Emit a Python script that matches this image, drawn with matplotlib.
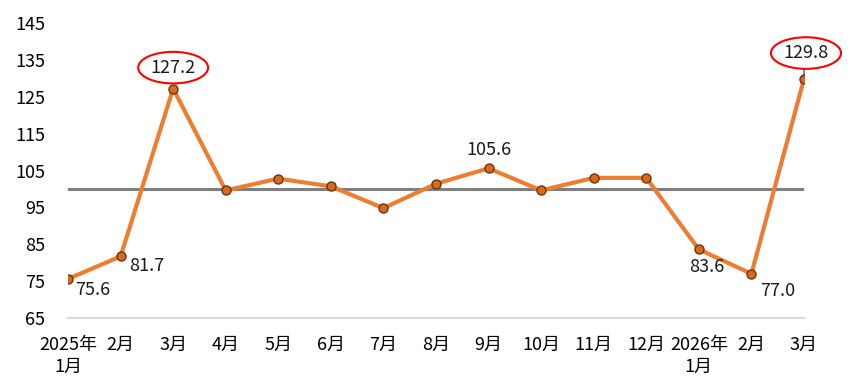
import matplotlib.pyplot as plt
import numpy as np

plt.rcParams['font.family'] = ['Noto Sans CJK SC', 'DejaVu Sans']

months = ['2025年\n1月', '2月', '3月', '4月', '5月', '6月', '7月', '8月', '9月',
          '10月', '11月', '12月', '2026年\n1月', '2月', '3月']
values = [75.6, 81.7, 127.2, 99.6, 102.8, 100.7, 94.8, 101.4, 105.6,
          99.6, 103.0, 103.0, 83.6, 77.0, 129.8]
baseline = 100
yticks = [65, 75, 85, 95, 105, 115, 125, 135, 145]

# which points get a label, and where (pixel offsets), circled or not
labels = {0: (25, -11, False), 1: (26, -10, False), 2: (0, 21, True),
          8: (0, 18, False), 12: (8, -18, False), 13: (26, -17, False),
          14: (2, 26, True)}

fig = plt.figure(figsize=(8.51, 3.86), dpi=100)
ax = fig.add_axes([68 / 851, 1 - 318 / 386, (804 - 68) / 851, (318 - 23) / 386])

x = np.arange(len(values))
ax.plot([x[0], x[-1]], [baseline, baseline], color='#7f7f7f', lw=2.2, zorder=1)
ax.plot(x, values, color='#ED7D31', lw=3, zorder=2,
        marker='o', ms=6.5, mfc='#D66A1E', mec='#6b3410', mew=1)

# small leader from the last point to its circled label
ax.annotate('', xy=(x[-1], values[-1]), xytext=(x[-1], values[-1] + 3.3),
            arrowprops=dict(arrowstyle='-', color='#333333', lw=0.8), zorder=3)

for i, (dx, dy, circ) in labels.items():
    kw = {}
    if circ:
        kw['bbox'] = dict(boxstyle='ellipse,pad=0.12', fc='white', ec='#FF0000', lw=1.5)
    ax.annotate(f'{values[i]:.1f}', xy=(x[i], values[i]), xytext=(dx, dy),
                textcoords='offset pixels', ha='center', va='center',
                fontsize=13, color='#1a1a1a', zorder=5, **kw)

ax.set_xlim(0, len(values) - 1)
ax.set_ylim(65, 145)
ax.set_yticks(yticks)
ax.set_xticks(x)
ax.set_xticklabels(months, fontsize=13, linespacing=1.3, va='top')
ax.tick_params(axis='y', length=0, pad=16.5, labelsize=13)
ax.tick_params(axis='x', length=0, pad=13)
for s in ['top', 'right', 'left']:
    ax.spines[s].set_visible(False)
ax.spines['bottom'].set_color('#d9d9d9')
ax.spines['bottom'].set_linewidth(1.5)

plt.savefig('out.png', dpi=100)
